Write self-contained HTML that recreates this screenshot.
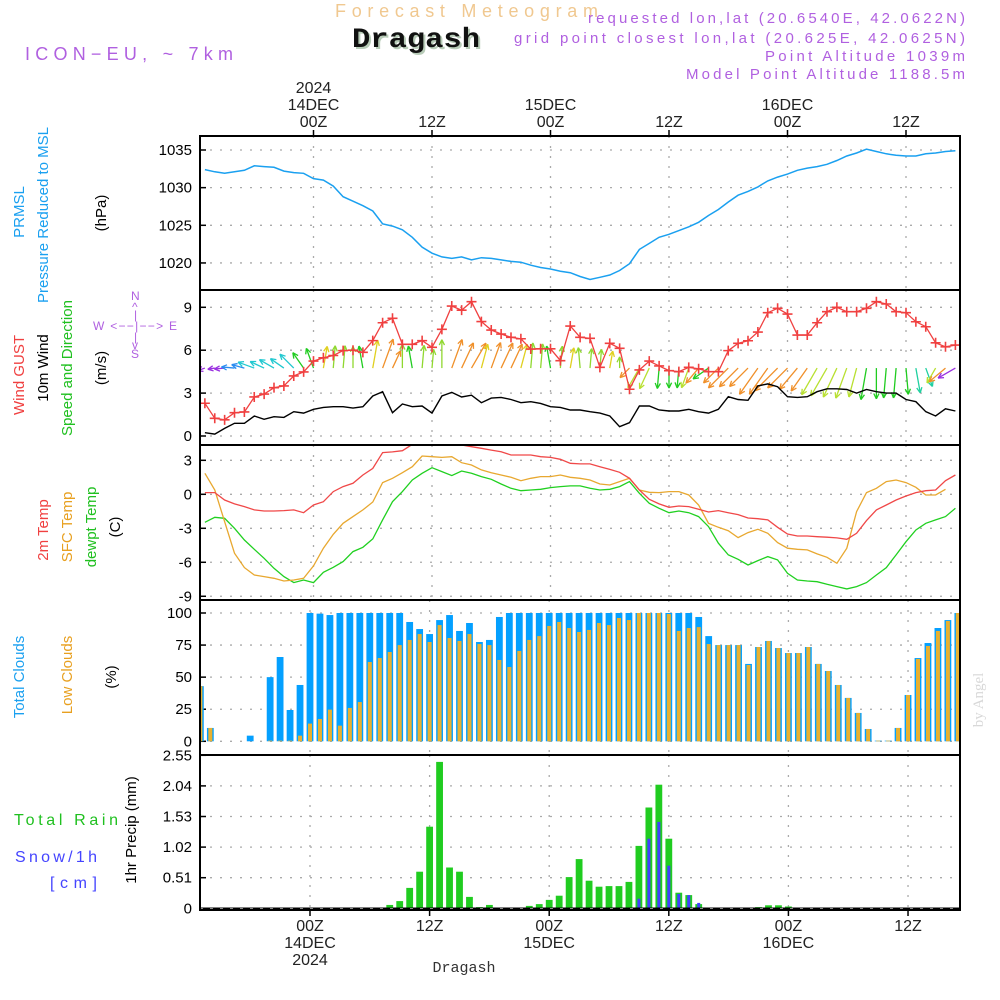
<!DOCTYPE html>
<html><head><meta charset="utf-8"><title>Meteogram Dragash</title>
<style>
html,body{margin:0;padding:0;background:#fff;}
svg{display:block;font-family:"Liberation Sans",sans-serif;}
</style></head>
<body>
<svg id="chart" width="1000" height="1000" viewBox="0 0 1000 1000" xmlns="http://www.w3.org/2000/svg">
<defs>
<clipPath id="c1"><rect x="200" y="136" width="760" height="154"/></clipPath>
<clipPath id="c2"><rect x="200" y="290" width="760" height="155"/></clipPath>
<clipPath id="c3"><rect x="200" y="445" width="760" height="155"/></clipPath>
<clipPath id="c4"><rect x="200" y="600" width="760" height="155"/></clipPath>
<clipPath id="c5"><rect x="200" y="755" width="760" height="155"/></clipPath>
</defs>
<!-- Titles -->
<text x="335" y="17" textLength="263" lengthAdjust="spacing" font-size="18" fill="#f0c890">Forecast Meteogram</text>
<text x="354" y="49" textLength="128" lengthAdjust="spacingAndGlyphs" font-size="28" font-weight="bold" font-family="Liberation Mono, monospace" fill="#b8ccb8">Dragash</text>
<text x="352" y="47" textLength="128" lengthAdjust="spacingAndGlyphs" font-size="28" font-weight="bold" font-family="Liberation Mono, monospace" fill="#111">Dragash</text>
<text x="25" y="60" textLength="208" lengthAdjust="spacing" font-size="18" fill="#b060e0">ICON−EU, ~ 7km</text>
<g font-size="15" fill="#b060e0" text-anchor="end">
<text x="965" y="23" textLength="377" lengthAdjust="spacing">requested lon,lat (20.6540E, 42.0622N)</text>
<text x="965" y="43" textLength="451" lengthAdjust="spacing">grid point closest lon,lat (20.625E, 42.0625N)</text>
<text x="965" y="61" textLength="200" lengthAdjust="spacing">Point Altitude 1039m</text>
<text x="965" y="79" textLength="279" lengthAdjust="spacing">Model Point Altitude 1188.5m</text>
</g>
<!-- Left labels -->
<g font-size="15" text-anchor="middle">
<text transform="translate(24,212) rotate(-90)" fill="#1aa0f0">PRMSL</text>
<text transform="translate(48,215) rotate(-90)" fill="#1aa0f0">Pressure Reduced to MSL</text>
<text transform="translate(106,213) rotate(-90)" fill="#000">(hPa)</text>
<text transform="translate(24,375) rotate(-90)" fill="#f04040">Wind GUST</text>
<text transform="translate(48,368) rotate(-90)" fill="#000">10m Wind</text>
<text transform="translate(72,368) rotate(-90)" fill="#20c020">Speed and Direction</text>
<text transform="translate(106,368) rotate(-90)" fill="#000">(m/s)</text>
<text transform="translate(48,530) rotate(-90)" fill="#f04040">2m Temp</text>
<text transform="translate(72,527) rotate(-90)" fill="#e8a020">SFC Temp</text>
<text transform="translate(96,527) rotate(-90)" fill="#20c020">dewpt Temp</text>
<text transform="translate(120,527) rotate(-90)" fill="#000">(C)</text>
<text transform="translate(24,677) rotate(-90)" fill="#1aa0f0">Total Clouds</text>
<text transform="translate(72,675) rotate(-90)" fill="#e8a020">Low Clouds</text>
<text transform="translate(116,677) rotate(-90)" fill="#000">(%)</text>
<text transform="translate(136,830) rotate(-90)" fill="#000">1hr Precip (mm)</text>
</g>
<g font-size="16">
<text x="14" y="825" textLength="104" lengthAdjust="spacing" fill="#20c020">Total  Rain</text>
<text x="15" y="862" textLength="82" lengthAdjust="spacing" fill="#4444ff">Snow/1h</text>
<text x="50" y="888" textLength="47" lengthAdjust="spacing" fill="#4444ff">[cm]</text>
</g>
<g fill="#b060e0" font-size="12">
<text x="131" y="300">N</text>
<text x="93" y="330" textLength="84" lengthAdjust="spacing">W &lt;−−|−−&gt; E</text>
<text x="131" y="358">S</text>
<text x="132" y="311">^</text><text x="134" y="319">|</text>
<text x="134" y="341">|</text><text x="132" y="349">v</text>
</g>
<text transform="translate(983,700) rotate(-90)" font-family="Liberation Serif, serif" font-size="15" fill="#d8d8d8" text-anchor="middle">by Angel</text>
<text x="464" y="972" text-anchor="middle" font-family="Liberation Mono, monospace" font-size="15" fill="#333">Dragash</text>
<g id="layer"></g>
</svg>
<script>
// ---- DATA (hourly, t = -11 .. 65 hours from 00Z 14DEC 2024) ----
const hoursStart = -11;
const pressure = [1032.4,1032.1,1031.9,1032.1,1032.3,1032.9,1032.8,1032.7,1032.2,1032.0,1031.9,
1031.2,1031.0,1030.2,1028.8,1028.2,1027.6,1026.9,1025.2,1024.9,1024.4,1023.4,1022.1,1021.3,1020.8,1020.6,1020.8,1020.4,1020.7,1020.6,1020.4,1020.2,1020.1,1019.7,1019.4,1019.2,1018.9,1018.7,
1018.2,1017.8,1018.1,1018.4,1019.0,1019.9,1021.8,1022.6,1023.4,1023.8,1024.3,1024.8,1025.4,1026.3,1027.1,1028.1,1029.0,1029.5,1030.1,1030.9,1031.4,1031.8,1032.3,1032.6,1032.8,1033.1,1033.6,1034.2,1034.6,1035.1,1034.8,1034.5,1034.3,1034.2,1034.2,1034.5,1034.6,1034.8,1034.9];
const windGust = [2.29,1.24,1.13,1.63,1.68,2.73,2.93,3.38,3.5,4.2,4.48,5.24,5.47,5.63,5.97,6.0,5.85,6.67,7.92,8.23,6.41,6.41,6.67,6.2,7.46,9.09,8.8,9.39,8.0,7.41,7.13,6.9,6.8,6.08,6.1,6.1,5.27,7.69,
6.9,6.83,4.8,6.48,6.13,3.27,4.62,5.24,4.9,4.57,4.5,4.8,4.7,4.5,4.5,5.97,6.48,6.66,7.27,8.62,8.93,8.53,7.06,7.06,7.92,8.69,9.0,8.69,8.69,8.93,9.39,9.23,8.69,8.62,7.99,7.64,6.52,6.24,6.36];
const windSpeed = [0.23,0.13,0.53,0.89,0.89,1.4,1.17,1.35,1.3,1.7,1.6,1.87,2.0,2.05,2.05,1.95,2.05,2.8,3.1,1.63,2.24,2.05,2.1,1.6,2.8,3.05,2.73,2.85,2.33,2.65,2.7,2.55,2.33,2.4,2.28,2.05,2.0,1.82,
1.82,1.7,1.6,1.4,0.65,0.93,2.1,2.1,1.82,1.75,1.75,1.87,1.7,1.6,1.87,2.75,2.55,2.5,3.5,3.64,3.45,2.75,2.7,2.75,3.1,3.3,3.3,3.25,3.0,3.25,3.1,3.0,3.0,2.55,2.4,1.7,1.4,1.9,1.75];
const windDir = [250,260,265,275,285,290,295,300,305,315,325,
340,10,5,5,0,350,10,20,25,0,
350,5,5,0,20,25,30,15,20,25,
25,15,5,5,350,5,10,355,5,5,
10,0,225,210,205,185,180,185,200,220,
235,225,225,225,225,215,215,225,225,220,
215,210,210,205,200,195,190,180,185,185,
175,170,160,210,230,240];
const temp2m = [0.15,0.15,-0.5,-0.85,-1.09,-1.38,-1.47,-1.47,-1.44,-1.38,-1.62,
-0.94,-0.65,0.24,0.68,0.97,1.7,2.29,3.68,3.74,3.85,
4.4,4.6,4.6,4.5,4.4,
4.35,4.2,4.06,3.9,3.76,3.47,3.47,3.47,3.32,3.26,3.09,2.74,
2.68,2.68,2.44,2.2,1.94,1.41,0.38,-0.44,-0.85,-1.15,-1.03,-1.09,-1.32,-1.56,-1.44,-1.62,-1.79,-2.09,-2.15,-2.26,-2.91,-3.5,-3.68,-3.68,-3.74,-3.79,-3.85,-3.97,-3.44,-2.32,-1.38,-0.94,-0.5,-0.15,0.15,0.32,0.38,1.2,1.7];
const tempSfc = [1.85,0.38,-2.41,-5.2,-6.47,-7.12,-7.26,-7.41,-7.65,-7.56,-7.41,
-6.32,-4.76,-3.53,-2.56,-1.97,-1.38,-0.68,1.03,1.41,1.91,
2.44,3.38,3.32,3.26,3.32,2.79,2.59,2.15,1.91,1.7,1.5,1.2,1.41,1.56,1.56,1.7,1.5,
1.41,1.26,0.91,0.82,1.12,1.41,0.38,0.18,0.15,0.24,0.24,-0.06,-0.94,-2.56,-2.91,-3.21,-3.82,-3.38,-3.09,-3.44,-4.26,-4.76,-4.85,-4.91,-5.26,-5.56,-6.09,-4.76,-1.53,0.15,0.53,1.12,1.26,1.03,0.62,-0.06,-0.06,0.44];
const dewpt = [-2.47,-2.03,-2.12,-3.0,-4.03,-4.85,-5.65,-6.53,-7.26,-7.79,-7.56,
-7.79,-6.88,-6.44,-5.94,-5.06,-4.68,-3.94,-2.26,-0.65,0.24,
1.26,1.85,2.35,2.0,1.65,2.06,1.85,1.56,1.32,0.91,0.53,0.32,0.38,0.44,0.59,0.68,0.74,
0.74,0.53,0.38,0.44,0.68,1.12,0.09,-0.79,-1.24,-1.62,-1.47,-1.62,-1.97,-2.85,-4.32,-5.35,-5.74,-6.24,-5.85,-5.5,-5.79,-6.97,-7.56,-7.65,-7.71,-7.94,-8.15,-8.35,-8.15,-7.79,-7.12,-6.47,-5.35,-4.18,-3.15,-2.56,-2.26,-1.97,-1.24];
const totalClouds = [43,10.4,0,0,0,4.4,0,50,65.7,24.4,43.9,
100,99.5,98.4,100,100,100,100,100,100,100,
93,87.5,83.6,94.5,98.4,86,92.2,77.4,79,96.9,
100,100,100,100,100,100,100,100,100,100,
100,100,100,100,100,100,100,100,100,96.9,
82,75,75,75,60.3,73.5,78.2,72.7,68.8,68.8,
73.5,60.3,54.8,43.9,33.8,22.1,9.6,0.5,0.5,10.4,
36.1,64.9,76.6,88.3,94.5,100];
const lowClouds = [43,10.4,0,0,0,0,0,0.5,0.5,0.5,4.4,
13.8,17.4,24.7,12.2,26,30.6,61.8,64.9,69.6,75,
79,83.6,77.4,90.6,80.5,78.2,83.6,75.8,75,63.4,
57.9,70.4,79,82,89.9,93,88.3,85.2,86.8,92.2,
90.6,96.1,94.5,100,100,100,99.2,86,88.3,89,
75.8,75,75,75,59.5,73.5,78.2,72.7,68.8,68.8,
73.5,60.3,54.8,43.9,33.8,22.1,9.6,0.5,0.5,10.4,
36.1,64.2,74.3,86,93.8,100];
const totalRain = [0,0,0,0,0,0,0,0,0,0,0,0,0,0,0,0,0,0,0,
0.056,0.12,0.34,0.61,1.36,2.44,0.68,0.61,0.19,0.02,0.056,
0,0,0,
0.04,0.07,0.14,0.21,0.52,0.82,0.46,0.36,0.37,0.37,0.44,1.04,1.68,2.06,1.16,0.26,0.22,0.07,
0.01,0,0,0,0,0.02,0.05,0.05,0.03,
0,0,0,0,0,0,0,0,0,0,0,0,0,0,0,0,0];
const snow = [0,0,0,0,0,0,0,0,0,0,0,0,0,0,0,0,0,0,0,0,0,0,0,0,0,0,0,0,0,0,0,0,0,0,0,0,0,0,0,0,0,0,0,0,
0.16,1.16,1.44,0.71,0.24,0.22,0.09,0.01,
0,0,0,0,0,0,0,0,0,0,0,0,0,0,0,0,0,0,0,0,0,0,0,0,0];
const pressureTicks = [1020,1025,1030,1035];
const windTicks = [0,3,6,9];
const tempTicks = [-9,-6,-3,0,3];
const cloudTicks = [0,25,50,75,100];
const precipTicks = [0,0.51,1.02,1.53,2.04,2.55];
const timeTicks = [0,12,24,36,48,60];
const timeTickLabels = ["00Z","12Z","00Z","12Z","00Z","12Z"];
const dayLabels = {0:"14DEC",24:"15DEC",48:"16DEC"};

// ---- AXES ----
const NS="http://www.w3.org/2000/svg";
const layer=document.getElementById('layer');
const xTop=t=>313.5+t*9.875;
const xBot=t=>310+t*9.967;
const yP=v=>150+(1035-v)*7.53;
const yW=v=>436-v*14.3;
const yT=v=>494.3-v*11.33;
const yC=v=>741.3-v*1.283;
const yR=v=>908.3-v*60;
function mk(tag,attrs,parent){const e=document.createElementNS(NS,tag);for(const k in attrs)e.setAttribute(k,attrs[k]);(parent||layer).appendChild(e);return e;}
function grp(clip){const g=mk('g',{});if(clip)g.setAttribute('clip-path','url(#'+clip+')');return g;}
const panels=[{top:136,bot:290,clip:'c1',xf:xTop},{top:290,bot:445,clip:'c2',xf:xTop},{top:445,bot:600,clip:'c3',xf:xTop},{top:600,bot:755,clip:'c4',xf:xBot},{top:755,bot:910,clip:'c5',xf:xBot}];
const gridG=grp(null);


function hgrid(ticks,yf,fmt){
  ticks.forEach(v=>{const y=yf(v);
    mk('line',{x1:200,x2:960,y1:y,y2:y,stroke:'#aaa','stroke-dasharray':'2,8','stroke-width':1.3},gridG);
    mk('line',{x1:200,x2:206,y1:y,y2:y,stroke:'#000','stroke-width':1.5},gridG);
    const tx=mk('text',{x:192,y:y+5,'text-anchor':'end','font-size':15,fill:'#000'},gridG);
    tx.textContent=fmt?fmt(v):String(v);
    
    
  });
}
hgrid(pressureTicks,yP);hgrid(windTicks,yW);hgrid(tempTicks,yT);hgrid(cloudTicks,yC);
hgrid(precipTicks,yR,v=>v===0?"0":v.toFixed(2));
panels.forEach(p=>{timeTicks.forEach(t=>{const x=p.xf(t);
  mk('line',{x1:x,x2:x,y1:p.top,y2:p.bot,stroke:'#aaa','stroke-dasharray':'2,8','stroke-width':1.3},gridG);});});
timeTicks.forEach((t,i)=>{const x=xTop(t);
  mk('line',{x1:x,x2:x,y1:130,y2:136,stroke:'#000','stroke-width':1.5},gridG);
  const a=mk('text',{x:x,y:127,'text-anchor':'middle','font-size':16,fill:'#222'},gridG);a.textContent=timeTickLabels[i];
  
  
  if(dayLabels[t]){const b=mk('text',{x:x,y:110,'text-anchor':'middle','font-size':16,fill:'#222'},gridG);b.textContent=dayLabels[t];
    
    }
  if(t===0){const c=mk('text',{x:x,y:93,'text-anchor':'middle','font-size':16,fill:'#222'},gridG);c.textContent="2024";
    
    }
  const xb=xBot(t);
  mk('line',{x1:xb,x2:xb,y1:910,y2:916,stroke:'#000','stroke-width':1.5},gridG);
  const d=mk('text',{x:xb,y:931,'text-anchor':'middle','font-size':16,fill:'#222'},gridG);d.textContent=timeTickLabels[i];
  
  
  if(dayLabels[t]){const e=mk('text',{x:xb,y:948,'text-anchor':'middle','font-size':16,fill:'#222'},gridG);e.textContent=dayLabels[t];
    
    }
  if(t===0){const f=mk('text',{x:xb,y:965,'text-anchor':'middle','font-size':16,fill:'#222'},gridG);f.textContent="2024";
    
    }
});
function line(arr,xf,yf,color,clip,name,w){
  const pts=arr.map((v,i)=>xf(hoursStart+i).toFixed(1)+','+yf(v).toFixed(1)).join(' ');
  const g=grp(clip);
  const pl=mk('polyline',{points:pts,fill:'none',stroke:color,'stroke-width':w||1.3},g);
  
  
  return g;
}
line(pressure,xTop,yP,'#1aa0f0','c1','pressure-line',1.5);
function arrowColor(a){
  a=((a%360)+360)%360;
  if(a>=240&&a<270)return '#9a30e0';
  if(a>=270&&a<290)return '#2a8cf0';
  if(a>=290&&a<320)return '#20c8d0';
  if(a>=320&&a<355)return '#20cc20';
  if(a>=355||a<8)return '#90d830';
  if(a>=8&&a<18)return '#e0d020';
  if(a>=18&&a<60)return '#f0902a';
  if(a>=150&&a<172)return '#20d0a0';
  if(a>=172&&a<195)return '#20cc20';
  if(a>=195&&a<212)return '#b8e030';
  if(a>=212&&a<232)return '#f0902a';
  return '#20cc20';
}
const wg=grp('c2');
windDir.forEach((d,i)=>{
  const t=hoursStart+i;const x0=xTop(t);const y0=yW(4.75);
  const L=Math.min(32,6+8*windSpeed[i]);const r=d*Math.PI/180;
  const x1=x0+L*Math.sin(r),y1=y0-L*Math.cos(r);const col=arrowColor(d);
  const g=mk('g',{stroke:col,'stroke-width':1.3,fill:'none'},wg);
  
  
  mk('line',{x1:x0,y1:y0,x2:x1,y2:y1},g);
  [-0.45,0.45].forEach(da=>{const rr=r+Math.PI+da;mk('line',{x1:x1,y1:y1,x2:x1+6*Math.sin(rr),y2:y1-6*Math.cos(rr)},g);});
});
line(windSpeed,xTop,yW,'#000','c2','wind-speed-line',1.4);
const gg=line(windGust,xTop,yW,'#f04040','c2','wind-gust-line',1.3);
windGust.forEach((v,i)=>{const x=xTop(hoursStart+i),y=yW(v);
  const c=mk('path',{d:`M${x-5},${y}H${x+5}M${x},${y-5}V${y+5}`,stroke:'#f04040','stroke-width':1.6},gg);
  
  });
line(dewpt,xTop,yT,'#20d020','c3','dewpoint-line',1.3);
line(tempSfc,xTop,yT,'#e8a830','c3','sfc-temp-line',1.3);
line(temp2m,xTop,yT,'#f04848','c3','temp-2m-line',1.3);
const cg=grp('c4');
totalClouds.forEach((v,i)=>{const x=xBot(hoursStart+i);
  const b=mk('rect',{x:x-3.4,y:yC(v),width:6.8,height:Math.max(0,yC(0)-yC(v)),fill:'#04a0ff'},cg);
  
  
  const l=lowClouds[i];
  const o=mk('rect',{x:x-2,y:yC(l),width:4,height:Math.max(0,yC(0)-yC(l)),fill:'#e8b030'},cg);
  
  
});
const pg=grp('c5');
totalRain.forEach((v,i)=>{const x=xBot(hoursStart+i);
  if(v>0){const b=mk('rect',{x:x-3.4,y:yR(v),width:6.8,height:yR(0)-yR(v),fill:'#20cc20'},pg);
    
    }
  const s=snow[i];
  if(s>0){const sb=mk('rect',{x:x-1.5,y:yR(s),width:3,height:yR(0)-yR(s),fill:'#4040ff'},pg);
    
    }
});
mk('line',{x1:200,x2:960,y1:908.5,y2:908.5,stroke:'#000','stroke-width':2},pg);
mk('line',{x1:200,x2:960,y1:908.5,y2:908.5,stroke:'#888','stroke-width':1,'stroke-dasharray':'3,7'},pg);
panels.forEach((p,i)=>{const r=mk('rect',{x:200,y:p.top,width:760,height:p.bot-p.top,fill:'none',stroke:'#000','stroke-width':2});
  
  });
</script>
</body></html>
